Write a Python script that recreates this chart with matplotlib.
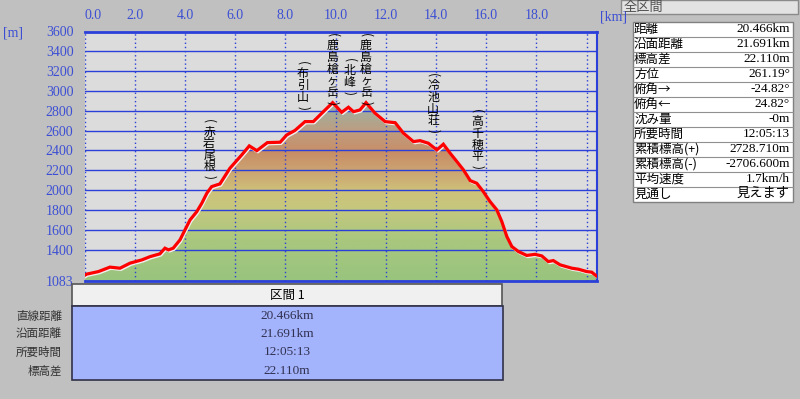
import matplotlib
matplotlib.use("Agg")
import matplotlib.pyplot as plt
import matplotlib.transforms as mtransforms
import numpy as np
from matplotlib.colors import LinearSegmentedColormap
from matplotlib.patches import Polygon, Rectangle

plt.rcParams['font.family'] = ['Noto Sans CJK JP', 'DejaVu Sans']

# --- données du profil ---
dist_km = [0.00, 0.08, 0.55, 1.01, 1.41, 1.81, 2.28, 2.61, 3.00, 3.20,
           3.34, 3.53, 3.80, 4.00, 4.20, 4.47, 4.67, 4.87, 5.06, 5.26,
           5.39, 5.79, 6.26, 6.56, 6.86, 7.28, 7.79, 8.05, 8.38, 8.78,
           9.11, 9.51, 9.88, 10.24, 10.51, 10.71, 10.97, 11.21, 11.57, 11.97,
           12.37, 12.70, 13.10, 13.36, 13.69, 14.03, 14.29, 14.56, 14.83, 15.09,
           15.36, 15.62, 15.88, 16.15, 16.42, 16.62, 16.82, 17.02, 17.28, 17.61,
           17.94, 18.21, 18.47, 18.67, 18.94, 19.41, 19.67, 20.00, 20.20, 20.38]
elev_m = [1140, 1152, 1178, 1223, 1212, 1263, 1296, 1329, 1357, 1414,
          1397, 1414, 1498, 1599, 1699, 1783, 1868, 1969, 2035, 2052,
          2062, 2221, 2355, 2446, 2398, 2479, 2483, 2556, 2602, 2691,
          2691, 2791, 2882, 2785, 2836, 2791, 2809, 2882, 2775, 2691,
          2680, 2574, 2489, 2499, 2473, 2405, 2463, 2372, 2287, 2204,
          2096, 2069, 1985, 1884, 1800, 1682, 1531, 1430, 1380, 1341,
          1352, 1336, 1279, 1289, 1246, 1212, 1202, 1178, 1172, 1135]

x_ticks = [0, 2, 4, 6, 8, 10, 12, 14, 16, 18]
x_grid = [2, 4, 6, 8, 10, 12, 14, 16, 18, 20]
y_ticks = [1083, 1400, 1600, 1800, 2000, 2200, 2400, 2600, 2800, 3000, 3200, 3400, 3600]

place_names = ["赤岩尾根", "布引山", "鹿島槍ヶ岳", "北峰", "鹿島槍ヶ岳", "冷池山荘", "高千穂平"]
place_km = [4.96, 8.70, 9.88, 10.55, 11.21, 13.88, 15.64]
place_top_m = [2728, 3313, 3595, 3343, 3595, 3192, 2829]

summary_title = "全区間"
summary_labels = ["距離", "沿面距離", "標高差", "方位", "俯角→", "俯角←", "沈み量",
                  "所要時間", "累積標高(+)", "累積標高(-)", "平均速度", "見通し"]
summary_values = ["20.466km", "21.691km", "22.110m", "261.19°", "-24.82°", "24.82°", "-0m",
                  "12:05:13", "2728.710m", "-2706.600m", "1.7km/h", "見えます"]

section_title = "区間 1"
section_labels = ["直線距離", "沿面距離", "所要時間", "標高差"]
section_values = ["20.466km", "21.691km", "12:05:13", "22.110m"]

BLUE = "#2b3fd9"
TXT_BLUE = "#3c4fd4"
NUM_FONT = ['Liberation Serif', 'Noto Sans CJK JP']

fig = plt.figure(figsize=(8, 3.99), dpi=100, facecolor="#c0c0c0")
ax = fig.add_axes([84.6 / 800, 1 - 281 / 399, 512.4 / 800, 249.5 / 399])
ax.set_facecolor("#dcdcdc")
x_max = 20.41

# remplissage en dégradé sous le profil
grad = LinearSegmentedColormap.from_list("elev", [
    (0.00, "#98c47e"), (0.22, "#aac77e"), (0.38, "#c4c87e"), (0.48, "#cec27a"),
    (0.59, "#cca472"), (0.69, "#c88e66"), (0.79, "#c09a7c"), (0.90, "#a8aa98"),
    (1.00, "#9cb2a6")])
poly = Polygon([(0, 1083)] + list(zip(dist_km, elev_m)) + [(dist_km[-1], 1083)],
               closed=True, facecolor="none", edgecolor="none")
ax.add_patch(poly)
img = ax.imshow(np.linspace(0, 1, 256).reshape(-1, 1), extent=[0, x_max, 1083, 2950],
                origin="lower", aspect="auto", cmap=grad, zorder=2)
img.set_clip_path(poly)
ax.set_ylim(1083, 3600)
ax.set_xlim(0, x_max)

# grille
for y in y_ticks[1:-1]:
    ax.axhline(y, color=BLUE, lw=1.0, zorder=3)
for x in [0] + x_grid:
    ax.axvline(x, color=BLUE, lw=1.0, ls=(0, (1, 2)), zorder=3)

# profil
shadow = mtransforms.offset_copy(ax.transData, fig=fig, x=1, y=-1.5, units="dots")
ax.plot(dist_km, elev_m, color="#f0f0f0", lw=1.8, transform=shadow, zorder=4)
ax.plot(dist_km, elev_m, color="#ff0000", lw=2.3, zorder=5, solid_joinstyle="miter")

for s in ["top", "bottom"]:
    ax.spines[s].set_color(BLUE)
    ax.spines[s].set_linewidth(2)
ax.spines["right"].set_color(BLUE)
ax.spines["right"].set_linewidth(1.5)
ax.spines["left"].set_visible(False)

ax.xaxis.tick_top()
ax.set_xticks(x_ticks, labels=[f"{v:.1f}" for v in x_ticks])
ax.set_yticks(y_ticks, labels=[str(v) for v in y_ticks])
ax.tick_params(length=0, colors=TXT_BLUE, labelsize=10)
ax.tick_params(axis="x", pad=7)
ax.tick_params(axis="y", pad=8)
for lab in ax.get_xticklabels() + ax.get_yticklabels():
    lab.set_family(NUM_FONT)
ax.get_xticklabels()[0].set_horizontalalignment("left")

# noms des lieux, écrits verticalement, entre parenthèses couchées
renderer = fig.canvas.get_renderer()
px = 0.72
for name, km, top in zip(place_names, place_km, place_top_m):
    ax.annotate("(", xy=(km, top), xytext=(0, -3.5 * px), textcoords="offset points",
                rotation=-90, ha="center", va="center", fontsize=8.6, zorder=6,
                annotation_clip=False)
    t = ax.annotate("\n".join(name), xy=(km, top), xytext=(0, -7.5 * px),
                    textcoords="offset points", ha="center", va="top",
                    fontsize=8.6, linespacing=0.86, zorder=6, annotation_clip=False)
    bb = t.get_window_extent(renderer)
    y_bot = ax.transData.inverted().transform((0, bb.y0))[1]
    ax.annotate(")", xy=(km, y_bot), xytext=(0, -4 * px), textcoords="offset points",
                rotation=-90, ha="center", va="center", fontsize=8.6, zorder=6,
                annotation_clip=False)

# calque en pixels pour les panneaux de texte
ov = fig.add_axes([0, 0, 1, 1])
ov.set_xlim(0, 800)
ov.set_ylim(399, 0)
ov.axis("off")
ov.patch.set_visible(False)

ov.text(600, 17, "[km]", color=TXT_BLUE, fontsize=10, family=NUM_FONT, va="center")
ov.text(3, 33, "[m]", color=TXT_BLUE, fontsize=10, family=NUM_FONT, va="center")

# panneau de droite
ov.add_patch(Rectangle((621, 0), 177, 14, fc="#e2e2e2", ec="#8a8a8a", lw=1))
ov.text(624, 7, summary_title, fontsize=9.5, color="#505050", va="center")
row_h = 15
top = 21.7
ov.add_patch(Rectangle((632.7, top), 160.3, row_h * len(summary_labels),
                       fc="white", ec="#808080", lw=1))
for i, (lab, val) in enumerate(zip(summary_labels, summary_values)):
    yc = top + row_h * (i + 0.5)
    if i:
        ov.plot([632.7, 793], [top + row_h * i] * 2, color="#909090", lw=0.8)
    ov.text(634, yc, lab, fontsize=9, color="black", va="center")
    ov.text(790, yc, val, fontsize=9.5, color="black", va="center", ha="right",
            family=NUM_FONT)

# tableau du bas
ov.add_patch(Rectangle((72, 284), 430, 22, fc="#f0f0f0", ec="#555555", lw=1.2))
ov.text(287, 295, section_title, fontsize=9, color="black", ha="center", va="center")
ov.add_patch(Rectangle((72, 306), 431, 74, fc="#a4b4fc", ec="#303048", lw=1.2))
rows_y = [316, 334, 352, 371]
for y, lab, val in zip(rows_y, section_labels, section_values):
    ov.text(62, y, lab, fontsize=8.3, color="#333333", ha="right", va="center")
    ov.text(287, y, val, fontsize=9.5, color="#303050", ha="center", va="center",
            family=NUM_FONT)

fig.savefig("out.png", dpi=100, facecolor=fig.get_facecolor())
